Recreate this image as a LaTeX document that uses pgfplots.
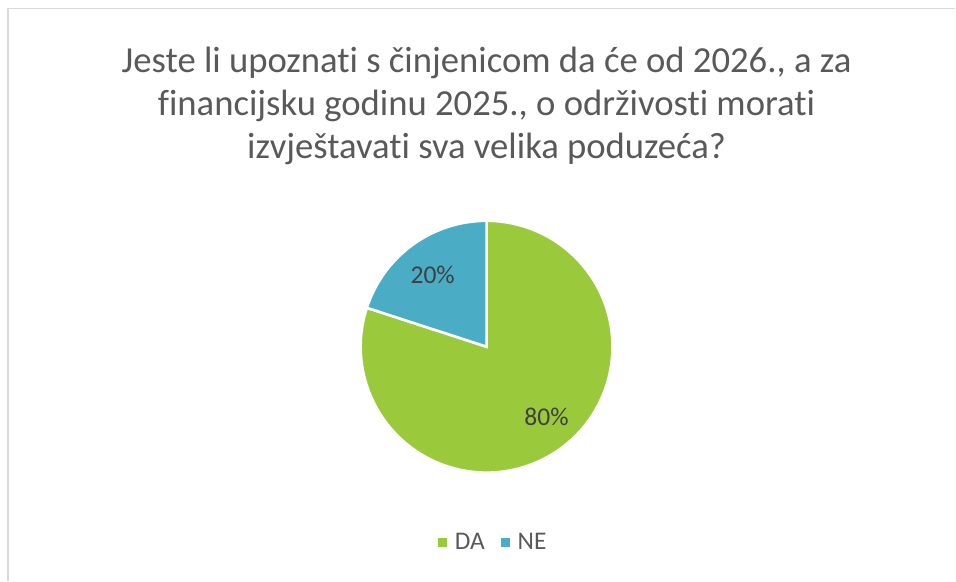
\documentclass[border=0pt]{standalone}
\usepackage{fontspec}
\setmainfont{Carlito}[Ligatures={NoCommon}]
\usepackage{pgfplots}
\usepackage{pgfplotstable}
\pgfplotsset{compat=1.18}

\definecolor{dagreen}{HTML}{9ACA3C}
\definecolor{neblue}{HTML}{4BACC6}
\definecolor{titlegray}{HTML}{595959}
\definecolor{labelgray}{HTML}{404040}
\definecolor{framegray}{HTML}{D9D9D9}

% odgovori (%)
\pgfplotstableread{
label value
DA 80
NE 20
}\piedata

\pgfplotstablegetelem{0}{value}\of\piedata \let\vDA\pgfplotsretval
\pgfplotstablegetelem{1}{value}\of\piedata \let\vNE\pgfplotsretval
% DA ide u smjeru kazaljke od vrha, NE popunjava ostatak
\pgfmathsetmacro\aSplit{90+3.6*\vNE}
\pgfmathsetmacro\aFull{90+360}

\begin{document}
\begin{tikzpicture}
\begin{axis}[
    width=956bp, height=581bp,
    scale only axis,
    xmin=0, xmax=956,
    ymin=0, ymax=581,
    hide axis,
    clip=false,
    legend columns=2,
    legend image code/.code={\path[draw=none, fill=none] (0bp,0bp) -- (15bp,0bp);
        \fill[#1, draw=none] (0bp,-4.8bp) rectangle (9.6bp,4.8bp);},
    legend style={at={(0.5162,0.0654)}, anchor=center, draw=none, fill=none,
        font=\fontsize{25.4bp}{30bp}\selectfont\color{titlegray},
        /tikz/every even column/.append style={column sep=14bp}},
    legend cell align=left,
]
\path (axis cs:0,0) rectangle (axis cs:956,581);
% okvir
\draw[framegray, line width=1.6bp] (axis cs:7.8,0) |- (axis cs:956,572.5);

% naslov
\node[titlegray, align=center, font=\fontsize{36.7bp}{43bp}\selectfont]
    at (axis cs:487,475) {Jeste li upoznati s činjenicom da će od 2026., a za\\
    financijsku godinu 2025., o održivosti morati\\
    izvještavati sva velika poduzeća?};

% kriške
\filldraw[fill=dagreen, draw=white, line width=2.6bp]
    (axis cs:487,234) -- +(\aSplit:126bp) arc[start angle=\aSplit, end angle=\aFull, radius=126bp] -- cycle;
\filldraw[fill=neblue, draw=white, line width=2.6bp]
    (axis cs:487,234) -- +(90:126bp) arc[start angle=90, end angle=\aSplit, radius=126bp] -- cycle;

% oznake
\node[labelgray, font=\fontsize{25.6bp}{30bp}\selectfont] at (axis cs:433,306) {\vNE\%};
\node[labelgray, font=\fontsize{25.6bp}{30bp}\selectfont] at (axis cs:547,164) {\vDA\%};

\addlegendimage{dagreen}
\addlegendentry{DA}
\addlegendimage{neblue}
\addlegendentry{NE}
\end{axis}
\end{tikzpicture}
\end{document}
